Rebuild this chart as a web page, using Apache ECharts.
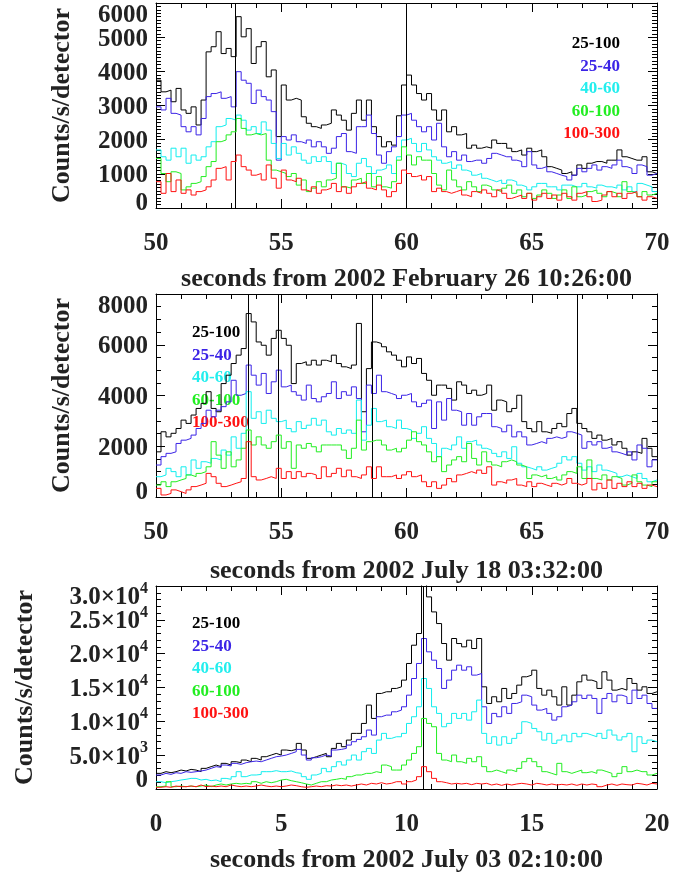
<!DOCTYPE html>
<html><head><meta charset="utf-8">
<script src="https://cdn.jsdelivr.net/npm/echarts@6/dist/echarts.min.js"></script>
<style>html,body{margin:0;padding:0;background:#fff}#c{width:696px;height:876px}</style>
</head><body><div id="c"></div>
<script>
// ---------- data ----------
const bandNames = ['25-100', '25-40', '40-60', '60-100', '100-300'];
const bandColors = ['#000000', '#3b24e6', '#11eeee', '#22ee22', '#ff1111'];
const binWidth = 0.2;

// Panel 1: seconds from 2002 February 26 10:26:00
const p1Range = [50, 70];
const p1Lines = [53.15, 60.0];
const p1_25_100 = [3740,3400,3450,3110,3500,2870,2770,2960,2430,3160,
  4570,4720,5160,4520,4670,4430,5600,5010,5250,4230,
  4720,4870,3840,4040,2090,3600,3160,3210,3160,2670,
  2480,2380,2330,2430,2480,2870,2720,2570,2280,2770,
  3160,2570,3160,2380,2090,1790,1940,1840,2700,3600,
  3890,3600,3350,3160,3350,2870,2570,2870,2230,2380,
  2140,2180,1750,1840,1750,1790,1750,1990,1890,1890,
  1750,1650,1700,1550,1750,1650,1700,1500,1210,1160,
  1110,1010,1060,960,1260,1160,1310,1360,1360,1310,
  1400,1400,1700,1500,1450,1400,1400,1500,1060,1010];
const p1_25_40 = [2960,2870,3210,2770,2720,2380,2230,2380,2140,2620,
  3260,3350,3400,3210,3260,2960,3990,3740,3650,3060,
  3450,3260,3160,2820,1400,2090,1990,2140,1940,1890,
  1990,1790,1940,1790,1600,1750,2090,2180,1650,1600,
  2380,2380,2720,2180,1550,1310,1650,1790,2090,2720,
  2770,2570,2380,2230,2380,1990,2480,1790,1500,1650,
  1400,1550,1360,1400,1400,1310,1450,1600,1550,1500,
  1500,1400,1360,1210,1650,1260,1160,1210,1060,1010,
  960,920,820,960,1160,1060,1160,1260,1110,1210,
  1160,1260,1400,1210,1160,1010,1260,1210,960,1010];
const p1_40_60 = [1700,1500,1400,1750,1500,1750,1310,1550,1400,1500,
  1790,1940,2380,2430,2620,2570,2720,2570,2280,2380,
  2180,2520,2280,1890,1450,1890,1550,1790,1600,1400,
  1310,1500,1360,1500,1360,1010,1310,1260,1010,920,
  1310,1450,1210,1010,1110,1160,1260,1010,1500,1990,
  2040,1890,1650,1890,1700,1500,1400,1310,1360,1160,
  1260,1110,1060,960,1010,870,820,770,820,720,
  820,770,670,620,530,620,720,720,620,620,
  530,670,670,620,620,720,620,580,670,620,
  620,580,670,530,620,480,720,670,620,480];
const p1_60_100 = [1450,1010,770,1060,1010,530,620,720,770,920,
  1210,1360,1940,1990,2140,2230,2620,2330,2140,2180,
  2140,2180,1400,1110,1060,1010,920,1010,670,820,
  480,580,770,620,820,870,1310,620,580,820,
  870,720,1010,620,920,620,580,770,1400,1790,
  1550,1260,1500,1400,1400,1010,670,530,1110,820,
  620,530,770,620,480,670,620,530,480,580,
  670,430,530,330,430,280,380,530,430,280,
  380,530,280,620,330,380,480,530,430,330,
  480,430,330,770,480,430,330,480,380,430];
const p1_100_300 = [770,430,1010,480,820,430,530,380,480,530,
  620,820,1160,1210,820,1360,1550,1210,1110,960,
  1010,820,1260,870,580,1110,820,770,870,530,
  480,620,430,530,580,720,480,620,430,620,
  720,770,580,530,670,530,330,480,720,1110,
  1010,920,960,820,920,480,580,480,430,480,
  530,380,330,480,430,530,430,330,530,430,
  280,330,380,280,430,230,330,430,280,380,
  230,430,330,230,430,480,330,190,230,380,
  480,330,430,280,430,480,330,230,330,280];

// Panel 2: seconds from 2002 July 18 03:32:00
const p2Range = [50, 70];
const p2Lines = [53.7, 54.9, 58.65, 66.8];
const p2_25_100 = [1780,2570,2370,2510,2700,3030,2900,3230,3490,3690,
  4150,3490,3360,4470,4800,5260,5590,5850,7230,6900,
  6110,5980,5590,6250,6570,6250,5980,4470,5260,5330,
  5200,5390,5200,5390,5330,5590,5260,5130,5060,5200,
  6840,3360,5060,6110,6050,5920,5720,5590,5390,5130,
  5520,5260,5460,4870,4600,4010,4410,4410,4280,3820,
  4540,4410,4080,4210,4010,4080,4410,3420,3820,3750,
  3360,3490,4010,2970,2700,2570,2970,2570,2510,2700,
  2900,2770,3290,3490,2900,2700,2570,2310,2440,2240,
  2310,2050,2180,1920,1650,1780,1720,2310,1920,1590];
const p2_25_40 = [1260,1590,1720,1780,2110,2240,2310,2440,2700,2900,
  3420,3160,3420,3560,3750,4600,4010,4080,5200,4800,
  4410,4870,4080,4540,5000,4340,4410,4150,4010,3820,
  4410,3880,3750,3950,4080,4540,3880,4150,4010,4340,
  3880,2570,4410,4080,4800,4150,4080,4010,3880,4010,
  4080,3750,3560,3690,3820,2700,3750,3030,3880,3420,
  3360,2830,3290,2830,3160,3290,3290,2770,2700,2570,
  2830,2370,2570,2370,2050,2110,2180,2110,2310,2370,
  2310,2370,2570,2510,2440,1920,2180,2050,2180,1920,
  1980,1780,1720,1650,1780,1460,2050,1920,1190,1460];
const p2_40_60 = [800,870,1130,1000,800,1190,870,1460,1130,1390,
  1330,1520,1460,1850,1650,2370,1920,2510,4150,3100,
  3360,2900,3420,3100,2970,3030,2700,2570,2970,2700,
  2830,3100,2830,3030,2570,2440,2700,2510,2640,2510,
  3820,2240,2830,3490,2970,3030,2770,2700,3030,2700,
  2640,2310,2510,2770,2310,2110,1590,1920,1850,2050,
  2370,1920,2180,2240,2050,1920,1850,1720,1590,1780,
  1520,1980,1330,1190,1130,1060,1190,1060,1130,1190,
  1330,1590,1460,1590,1330,1060,1190,1000,1260,1060,
  1000,930,800,870,800,730,930,730,600,670];
const p2_60_100 = [470,600,410,600,670,730,870,800,930,1000,
  1190,2180,1650,1130,1780,1190,1460,1920,2640,2050,
  2370,2050,1920,2180,2440,1920,2180,1130,2050,1920,
  2110,1980,1780,2050,2050,2050,2050,1850,1520,1920,
  3030,1850,2180,2240,2240,2050,1850,1920,1780,1920,
  2240,2570,2180,2050,1780,1390,1590,1000,1260,1460,
  1590,1390,2110,1520,1260,1780,1390,1260,1190,1390,
  1460,1390,1260,1190,730,870,800,870,730,800,
  670,870,1000,930,1190,730,1460,730,670,870,
  670,800,730,470,540,870,600,470,410,600];
const p2_100_300 = [340,80,140,280,210,140,280,410,470,540,
  930,800,540,410,470,540,600,730,2180,800,
  670,730,800,730,1130,730,1000,730,1000,800,
  930,870,730,1190,800,930,1130,800,1060,800,
  730,870,1190,730,1190,800,800,870,730,870,
  1000,800,870,600,410,600,340,470,730,600,
  870,930,1000,930,1060,930,1190,470,600,540,
  670,730,470,410,600,410,540,470,410,540,
  470,540,730,540,470,540,730,280,540,340,
  670,340,540,410,600,410,540,340,470,410];

// Panel 3: seconds from 2002 July 03 02:10:00
const p3Range = [0, 20];
const p3Lines = [10.65];
const p3_25_100 = [2310,2560,2410,2560,2800,2660,2900,2800,2560,3050,
  3300,3540,3300,3790,3540,4030,3890,4280,4030,4530,
  4280,4770,5020,5260,5020,5760,5660,5850,6740,5760,
  4530,4770,5020,5260,4770,6000,6740,6250,7230,8220,
  8220,9690,12400,10430,14120,14370,14370,14860,15100,16090,
  18550,21250,22980,30800,28390,26170,24450,21500,19040,22240,
  21500,21010,21990,20760,22240,15100,12640,13630,12890,14860,
  13380,14120,15350,16580,16830,17560,14860,13870,14610,13630,
  12400,15100,12400,13870,15840,16830,16090,15840,14860,17320,
  16090,14610,14860,14610,16330,15600,14610,15100,14120,14370];
const p3_25_40 = [2070,2310,2160,2410,2310,2560,2460,2560,2660,2800,
  3050,3300,3200,3540,3400,3790,3640,3890,4030,4130,
  4030,4280,4530,4770,4870,5020,5260,5510,5850,5020,
  4280,4620,4770,5020,4870,5760,5850,6000,6490,6990,
  7330,7720,8710,7970,10680,10920,10920,11410,11660,12150,
  13870,16330,18550,22240,20270,19040,17810,14860,16090,17560,
  18300,17560,18060,16830,17070,12150,9690,11170,10680,12150,
  11170,12640,12890,13870,13630,12400,11660,11910,11170,10180,
  10680,12150,12400,12890,13870,13380,13870,13380,11170,13380,
  14120,12890,13870,13630,12640,14610,13380,13870,12640,11910];
const p3_40_60 = [1080,930,1080,1180,1330,1430,1570,1570,1330,1430,
  1230,1330,1080,1570,1430,1820,2560,1820,2070,2070,
  2160,2560,2560,2710,2560,2560,2660,2410,2310,1820,
  1430,2070,2310,3050,2560,3300,4030,3540,4280,5020,
  4280,5510,6000,5260,7230,8220,7480,7720,7720,8220,
  9690,10680,12150,16330,14860,12150,11170,9200,9690,11170,
  10430,11170,10180,11410,13140,8220,6740,7720,6490,7720,
  6740,7480,8220,9940,9690,8950,8460,7230,8220,6740,
  7230,7970,6990,8220,7720,8220,7970,7720,8220,7480,
  8710,7970,7230,7720,8220,5510,7720,6740,7230,6990];
const p3_60_100 = [340,440,1080,340,440,340,440,340,440,590,
  340,590,740,590,740,840,740,840,740,1080,
  840,1080,930,1080,1330,1430,1230,1080,930,740,
  590,840,1080,1080,1330,1430,1570,1430,1820,2070,
  2070,2310,2310,2560,2410,3540,3300,2800,2800,3540,
  4280,5260,6250,10430,9690,9200,5260,4280,4030,5020,
  4030,3790,4530,4030,4770,3300,2560,2800,2560,2310,
  2800,2560,3050,4030,4530,4030,3300,2560,2310,2070,
  3790,2560,2310,2560,2800,2410,2560,2310,2800,2560,
  2310,1820,2310,3300,2560,2800,2560,2560,2070,2310];
const p3_100_300 = [250,340,250,440,340,340,440,340,590,340,
  440,340,440,340,590,440,340,440,340,440,
  590,440,340,440,340,440,590,490,340,250,
  340,440,340,490,440,590,490,590,440,590,
  740,590,840,740,930,740,840,1080,1080,740,
  1080,1330,1820,3300,2560,1570,1080,930,740,840,
  740,840,640,840,740,840,590,740,540,740,
  590,740,840,740,590,840,740,590,740,590,
  690,590,740,540,740,590,740,640,340,590,
  740,540,740,640,590,840,740,590,840,740];

const panels = [
  { range: p1Range, lines: p1Lines, yMax: 6000, yInterval: 1000, yMinor: 10, sci: false,
    title: 'seconds from 2002 February 26 10:26:00',
    series: [p1_25_100, p1_25_40, p1_40_60, p1_60_100, p1_100_300] },
  { range: p2Range, lines: p2Lines, yMax: 8000, yInterval: 2000, yMinor: 4, sci: false,
    title: 'seconds from 2002 July 18 03:32:00',
    series: [p2_25_100, p2_25_40, p2_40_60, p2_60_100, p2_100_300] },
  { range: p3Range, lines: p3Lines, yMax: 30000, yInterval: 5000, yMinor: 5, sci: true,
    title: 'seconds from 2002 July 03 02:10:00',
    series: [p3_25_100, p3_25_40, p3_40_60, p3_60_100, p3_100_300] }
];

// ---------- layout / style ----------
const FONT = 'Liberation Serif';
const TXT = '#222';
const gridBoxes = [ {top: 3, height: 205}, {top: 294, height: 203}, {top: 586, height: 203} ];
const nameGaps = [81, 81, 118];
const titleGaps = [58, 61, 58];
const topLabelPad = [22, 22, 20];   // pushes the top label down inside the box
const botLabelPad = [12, 12, 20];   // lifts the bottom label up inside the box
const legendPos = [
  {x: 620, y: 44, align: 'right'},
  {x: 192, y: 333, align: 'left'},
  {x: 192, y: 624, align: 'left'}
];
const legendStep = 22.5;

const lbl = {fontFamily: FONT, fontWeight: 'bold', fontSize: 25, color: TXT};
const rich = {
  n: Object.assign({padding: [4, 0, 0, 0]}, lbl),
  m: Object.assign({lineHeight: 30, padding: [4, 0, 0, 0]}, lbl),
  s: {fontFamily: FONT, fontWeight: 'bold', fontSize: 16, color: TXT, verticalAlign: 'top', lineHeight: 14}
};

const grids = [], xAxes = [], yAxes = [], series = [], graphics = [];
panels.forEach((p, g) => {
  grids.push({left: 156, right: 39, top: gridBoxes[g].top, height: gridBoxes[g].height});
  const tickCommon = {
    axisLine: {show: true, onZero: false, lineStyle: {color: '#000', width: 1}},
    axisTick: {show: true, inside: true, length: 9, lineStyle: {color: '#000'}},
    splitLine: {show: false}
  };
  xAxes.push(Object.assign({
    type: 'value', gridIndex: g, position: 'bottom', min: p.range[0], max: p.range[1], interval: 5,
    minorTick: {show: true, splitNumber: 5, length: 5, lineStyle: {color: '#000'}},
    axisLabel: Object.assign({margin: 23, showMinLabel: true, showMaxLabel: true}, lbl),
    name: p.title, nameLocation: 'middle', nameGap: titleGaps[g],
    nameTextStyle: {fontFamily: FONT, fontWeight: 'bold', fontSize: 26, color: TXT}
  }, tickCommon));
  xAxes.push(Object.assign({
    type: 'value', gridIndex: g, position: 'top', min: p.range[0], max: p.range[1], interval: 5,
    minorTick: {show: true, splitNumber: 5, length: 5, lineStyle: {color: '#000'}},
    axisLabel: {show: false}
  }, tickCommon));

  const text = v => {
    if (v === 0) return '{n|0}';
    if (p.sci) {
      const e = Math.floor(Math.log10(v));
      return '{m|' + (v / Math.pow(10, e)).toFixed(1) + '×10}{s|' + e + '}';
    }
    return '{n|' + v + '}';
  };
  // main left axis: interior labels
  yAxes.push(Object.assign({
    type: 'value', gridIndex: g, position: 'left', min: 0, max: p.yMax, interval: p.yInterval,
    minorTick: {show: true, splitNumber: p.yMinor, length: 5, lineStyle: {color: '#000'}},
    axisLabel: Object.assign({margin: 8, rich: rich, showMinLabel: true, showMaxLabel: true,
      formatter: v => (v === 0 || v === p.yMax) ? '' : text(v)}, lbl),
    name: 'Counts/s/detector', nameLocation: 'middle', nameRotate: 90, nameGap: nameGaps[g],
    nameTextStyle: {fontFamily: FONT, fontWeight: 'bold', fontSize: 26, color: TXT}
  }, tickCommon));
  // right axis: ticks only
  yAxes.push(Object.assign({
    type: 'value', gridIndex: g, position: 'right', min: 0, max: p.yMax, interval: p.yInterval,
    minorTick: {show: true, splitNumber: p.yMinor, length: 5, lineStyle: {color: '#000'}},
    axisLabel: {show: false}
  }, tickCommon));
  // label-only left axes for the top and bottom labels (kept inside the box like the original)
  [[p.yMax, [topLabelPad[g], 0, 0, 0]], [0, [0, 0, botLabelPad[g], 0]]].forEach(([val, pad]) => {
    yAxes.push({
      type: 'value', gridIndex: g, position: 'left', offset: 0, min: 0, max: p.yMax, interval: p.yInterval,
      axisLine: {show: false}, axisTick: {show: false}, minorTick: {show: false}, splitLine: {show: false},
      axisLabel: Object.assign({margin: 8, rich: rich, verticalAlign: 'middle', padding: pad,
        showMinLabel: true, showMaxLabel: true,
        formatter: v => v === val ? text(v) : ''}, lbl)
    });
  });

  p.series.forEach((vals, k) => {
    const data = vals.map((v, i) => [p.range[0] + i * binWidth, v]);
    data.push([p.range[0] + vals.length * binWidth, vals[vals.length - 1]]);
    const s = {
      type: 'line', name: bandNames[k], xAxisIndex: 2 * g, yAxisIndex: 4 * g,
      data: data, step: 'end', showSymbol: false, symbol: 'none', clip: true,
      lineStyle: {color: bandColors[k], width: 1}, itemStyle: {color: bandColors[k]},
      emphasis: {disabled: true}, z: 2 + k
    };
    if (k === 0) {
      s.markLine = {
        symbol: 'none', silent: true, label: {show: false},
        lineStyle: {color: '#000', width: 1, type: 'solid'},
        data: p.lines.map(x => ({xAxis: x}))
      };
    }
    series.push(s);
  });

  const lp = legendPos[g];
  bandNames.forEach((nm, k) => {
    graphics.push({
      type: 'text', x: lp.x, y: lp.y + k * legendStep, silent: true,
      style: {text: nm, fill: bandColors[k] === '#11eeee' ? '#22eeee' : bandColors[k],
        font: 'bold 17px "' + FONT + '"', align: lp.align, verticalAlign: 'middle'}
    });
  });
});

const chart = echarts.init(document.getElementById('c'), null, {renderer: 'canvas'});
chart.setOption({
  animation: false,
  backgroundColor: '#fff',
  grid: grids, xAxis: xAxes, yAxis: yAxes, series: series, graphic: graphics
});
</script>
</body></html>
